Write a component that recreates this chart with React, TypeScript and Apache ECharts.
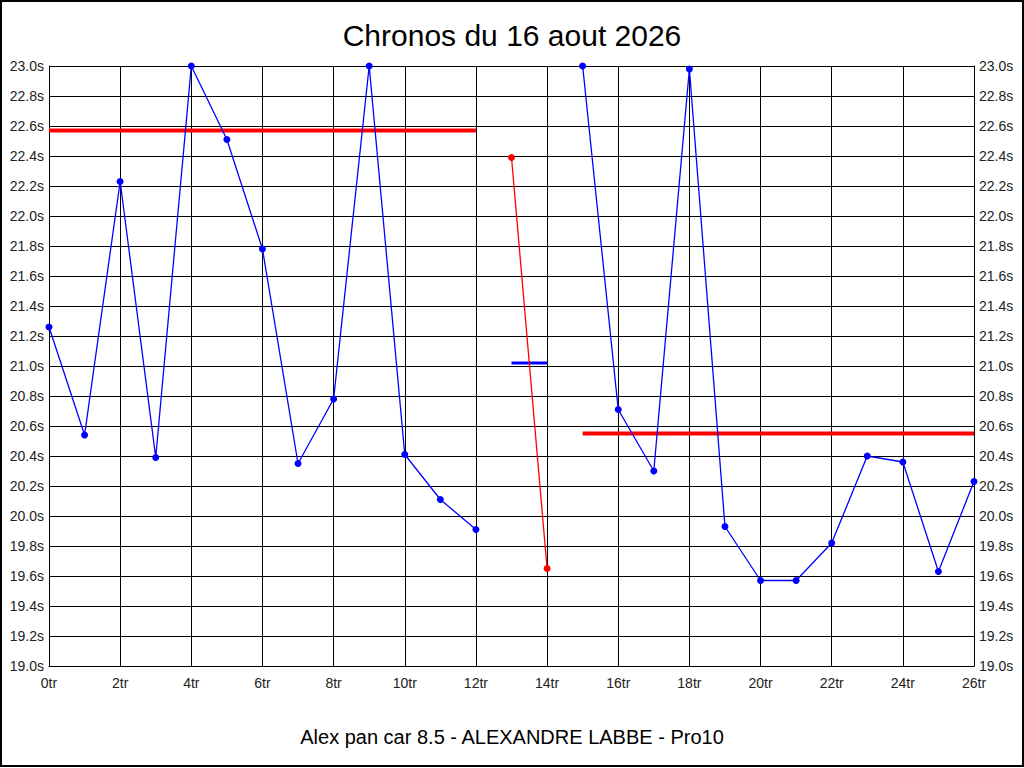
import React, { useEffect, useRef } from "react";
import * as echarts from "echarts";

const TITLE = "Chronos du 16 aout 2026";
const FOOTER = "Alex pan car 8.5 - ALEXANDRE LABBE - Pro10";

// lap index and lap time (s)
const blueLapsA = [0, 1, 2, 3, 4, 5, 6, 7, 8, 9, 10, 11, 12];
const blueTimesA = [21.26, 20.54, 22.23, 20.39, 23.0, 22.51, 21.78, 20.35, 20.78, 23.0, 20.41, 20.11, 19.91];
const redLaps = [13, 14];
const redTimes = [22.39, 19.65];
const blueLapsB = [15, 16, 17, 18, 19, 20, 21, 22, 23, 24, 25, 26];
const blueTimesB = [23.0, 20.71, 20.3, 22.98, 19.93, 19.57, 19.57, 19.82, 20.4, 20.36, 19.63, 20.23];

// average lines: [startLap, endLap, value]
const avgRed1 = [0, 12, 22.57];
const avgRed2 = [15, 26, 20.55];
const avgBlue = [13, 14, 21.02];

const FONT = "'Liberation Sans', Arial, sans-serif";

const zip = (xs: number[], ys: number[]) => xs.map((x, i) => [x, ys[i]]);
const seg = (a: number[]) => [[a[0], a[2]], [a[1], a[2]]];

export default function App() {
  const ref = useRef<HTMLDivElement>(null);
  useEffect(() => {
    document.body.style.margin = "0";
    const chart = echarts.init(ref.current!, null, { renderer: "svg" });
    const yAxisCommon = {
      type: "value",
      min: 19,
      max: 23,
      interval: 0.2,
      axisLine: { show: true, lineStyle: { color: "#000", width: 1 } },
      axisTick: { show: false },
      splitLine: { show: true, lineStyle: { color: "#000", width: 1 } },
      axisLabel: {
        formatter: (v: number) => v.toFixed(1) + "s",
        color: "#222",
        fontSize: 14,
        fontFamily: FONT,
        margin: 5,
      },
    };
    chart.setOption({
      animation: false,
      backgroundColor: "#fff",
      title: [
        {
          text: TITLE,
          left: "center",
          top: 15,
          textStyle: { fontSize: 30, fontWeight: "normal", color: "#000", fontFamily: FONT },
        },
        {
          text: FOOTER,
          left: "center",
          top: 722,
          textStyle: { fontSize: 20, fontWeight: "normal", color: "#000", fontFamily: FONT },
        },
      ],
      grid: { left: 49, right: 50, top: 66, bottom: 102, containLabel: false },
      xAxis: {
        type: "value",
        min: 0,
        max: 26,
        interval: 2,
        axisLine: { show: true, onZero: false, lineStyle: { color: "#000", width: 1 } },
        axisTick: { show: false },
        splitLine: { show: true, lineStyle: { color: "#000", width: 1 } },
        axisLabel: {
          formatter: (v: number) => v + "tr",
          color: "#222",
          fontSize: 14,
          fontFamily: FONT,
          margin: 10,
        },
      },
      yAxis: [
        { ...yAxisCommon, position: "left" },
        { ...yAxisCommon, position: "right", splitLine: { show: false } },
      ],
      series: [
        {
          type: "line",
          data: seg(avgRed1),
          symbol: "none",
          lineStyle: { color: "#ff0000", width: 4 },
          z: 3,
        },
        {
          type: "line",
          data: seg(avgRed2),
          symbol: "none",
          lineStyle: { color: "#ff0000", width: 4 },
          z: 3,
        },
        {
          type: "line",
          data: seg(avgBlue),
          symbol: "none",
          lineStyle: { color: "#0000ff", width: 3 },
          z: 3,
        },
        {
          type: "line",
          data: zip(blueLapsA, blueTimesA),
          symbol: "circle",
          symbolSize: 7,
          itemStyle: { color: "#0000ff" },
          lineStyle: { color: "#0000ff", width: 1.3 },
          z: 4,
        },
        {
          type: "line",
          data: zip(redLaps, redTimes),
          symbol: "circle",
          symbolSize: 7,
          itemStyle: { color: "#ff0000" },
          lineStyle: { color: "#ff0000", width: 1.3 },
          z: 4,
        },
        {
          type: "line",
          data: zip(blueLapsB, blueTimesB),
          symbol: "circle",
          symbolSize: 7,
          itemStyle: { color: "#0000ff" },
          lineStyle: { color: "#0000ff", width: 1.3 },
          z: 4,
        },
      ],
      graphic: [
        {
          type: "rect",
          shape: { x: 1, y: 1, width: 1022, height: 765 },
          style: { fill: "none", stroke: "#000", lineWidth: 2 },
          silent: true,
        },
      ],
    });
    return () => chart.dispose();
  }, []);
  return <div ref={ref} style={{ width: 1024, height: 768 }} />;
}
